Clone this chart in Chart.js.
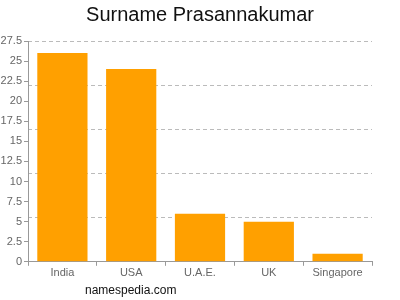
<!DOCTYPE html>
<html lang="en">
<head>
  <meta charset="UTF-8" />
  <title>Surname Prasannakumar</title>
  <script src="https://cdn.jsdelivr.net/npm/chart.js"></script>
  <style>
    body { margin: 0; background: #fff; }
    #wrap { position: relative; width: 400px; height: 300px; }
    #site {
      position: absolute; left: 85px; top: 283px;
      font-family: 'Liberation Sans', Arial, sans-serif;
      font-size: 12px; color: #111;
    }
  </style>
</head>
<body>
  <div id="wrap">
    <canvas id="grafico" width="400" height="300"></canvas>
    <div id="site">namespedia.com</div>
  </div>
  <script>
    const paises = ['India', 'USA', 'U.A.E.', 'UK', 'Singapore'];
    const valores = [26, 24, 6, 5, 1];
    const ejeMax = 27.5;
    const pasoTicks = 2.5;
    const pasoRejilla = 5.5;

    const fuente = "'Liberation Sans', Arial, sans-serif";

    new Chart(document.getElementById('grafico'), {
      type: 'bar',
      data: {
        labels: paises,
        datasets: [{
          data: valores,
          backgroundColor: '#ffa000',
          categoryPercentage: 0.73,
          barPercentage: 1
        }]
      },
      options: {
        responsive: false,
        animation: false,
        layout: { padding: { left: 0, right: 0, bottom: 19, top: 0 } },
        plugins: {
          legend: { display: false },
          tooltip: { enabled: false },
          title: {
            display: true,
            text: 'Surname Prasannakumar',
            color: '#111',
            font: { family: fuente, size: 20, weight: 'normal' },
            padding: { top: 3, bottom: 14 }
          }
        },
        scales: {
          x: {
            grid: { drawOnChartArea: false, drawTicks: true, tickLength: 4, color: '#999' },
            border: { color: '#999' },
            ticks: { color: '#666', font: { family: fuente, size: 11 }, padding: 1 }
          },
          y: {
            min: 0,
            max: ejeMax,
            afterFit: s => { s.width = 28; },
            ticks: { stepSize: pasoTicks, color: '#666', font: { family: fuente, size: 11 }, padding: 2 },
            grid: { drawOnChartArea: false, drawTicks: true, tickLength: 4, color: '#999' },
            border: { color: '#999' }
          },
          rejilla: {
            position: 'right',
            min: 0,
            max: ejeMax,
            afterFit: s => { s.width = 28; },
            ticks: { display: false, stepSize: pasoRejilla },
            grid: { color: '#bbb', drawTicks: false },
            border: { display: false, dash: [4, 3] }
          }
        }
      }
    });
  </script>
</body>
</html>
